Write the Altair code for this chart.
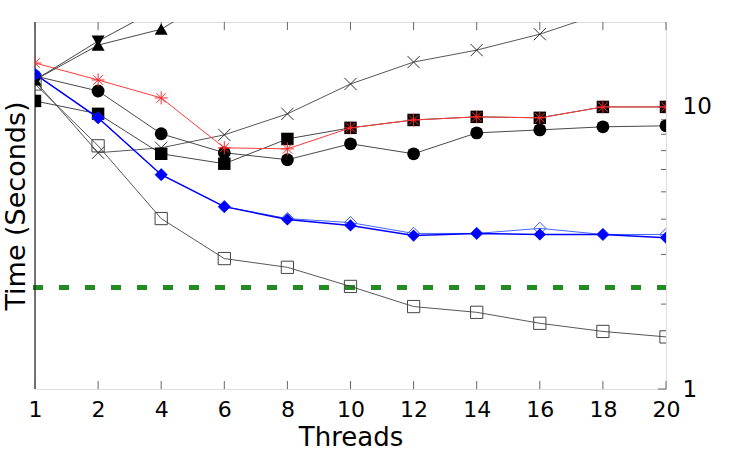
import altair as alt
import pandas as pd

# ---------------- data ----------------
THREADS = [1, 2, 4, 6, 8, 10, 12, 14, 16, 18, 20]

open_square = [12.06, 7.28, 4.02, 2.90, 2.70, 2.31, 1.96, 1.87, 1.71, 1.60, 1.53]
cross_x = [12.36, 6.88, 7.16, 7.96, 9.45, 12.06, 14.42, 15.90, 18.11, 21.5, 23.5]
circle = [12.87, 11.39, 8.03, 6.88, 6.50, 7.40, 6.82, 8.09, 8.29, 8.50, 8.57]
filled_square = [10.50, 9.45, 6.82, 6.29, 7.70, 8.43, 8.99, 9.22, 9.15, 10.0, 10.0]
red_star = [14.31, 12.46, 10.76, 7.16, 7.10, 8.43, 8.99, 9.22, 9.15, 10.0, 10.0]
blue_open = [13.08, 9.15, 5.75, 4.43, 4.02, 3.89, 3.56, 3.56, 3.71, 3.53, 3.53]
blue_filled = [13.08, 9.15, 5.75, 4.43, 3.99, 3.80, 3.50, 3.56, 3.53, 3.53, 3.44]

tri_down_threads = [1, 2, 4]
tri_down = [12.46, 17.11, 22.6]
tri_up_threads = [1, 2, 4, 6]
tri_up = [12.46, 16.56, 18.86, 25.7]

baseline = [2.29]

Y_LABELS = [1, 10]
Y_MINOR = [2, 3, 4, 5, 6, 7, 8, 9]

# ---------------- layout ----------------
W, H = 631, 367
FONT = "DejaVu Sans"

X_PATH = "M-1,-1L1,1M-1,1L1,-1"
STAR_PATH = "M-1,0L1,0M0,-1L0,1M-0.72,-0.72L0.72,0.72M-0.72,0.72L0.72,-0.72"

yscale = alt.Scale(type="log", domain=[1, 20], nice=False)
xscale = alt.Scale(type="point", padding=0)

X = alt.X(
    "Threads:O",
    scale=xscale,
    sort=THREADS,
    axis=alt.Axis(
        title="Threads",
        labelFontSize=22,
        titleFontSize=26,
        labelPadding=10,
        titlePadding=4,
        ticks=False,
        domain=False,
        grid=False,
        labelAngle=0,
        titleFontWeight="normal",
        labelColor="black",
        titleColor="black",
        labelFont=FONT,
        titleFont=FONT,
    ),
)

Y_NONE = alt.Y("Time:Q", scale=yscale, axis=None)
Y_RIGHT = alt.Y(
    "Time:Q",
    scale=yscale,
    axis=alt.Axis(
        orient="right",
        values=Y_LABELS,
        format="d",
        ticks=False,
        domain=False,
        grid=False,
        labelFontSize=23,
        labelPadding=16,
        labelColor="black",
        labelFont=FONT,
        title=None,
    ),
)
Y_LEFT = alt.Y(
    "Time:Q",
    scale=yscale,
    axis=alt.Axis(
        orient="left",
        title="Time (Seconds)",
        labels=False,
        ticks=False,
        domain=False,
        grid=False,
        titleFontSize=27,
        titlePadding=5,
        titleFontWeight="normal",
        titleColor="black",
        titleFont=FONT,
    ),
)

layers = []

# green dashed reference line (carries the left axis title)
green = alt.Chart(pd.DataFrame({"Time": baseline})).mark_rule(
    color="#228b22", strokeWidth=5, strokeDash=[10, 16]
).encode(y=Y_LEFT, x=alt.value(-2), x2=alt.value(W))
layers.append(green)

# dark left border of the frame
layers.append(
    alt.Chart(pd.DataFrame({"Time": [1]})).mark_rule(color="#222222", strokeWidth=1.2).encode(
        x=alt.value(0), y=alt.value(0), y2=alt.value(H)
    )
)

# inward ticks on bottom / top
tdf = pd.DataFrame({"Threads": THREADS})
layers.append(
    alt.Chart(tdf).mark_rule(color="#666", strokeWidth=1).encode(
        x=X, y=alt.value(H), y2=alt.value(H - 8)
    )
)
layers.append(
    alt.Chart(tdf).mark_rule(color="#666", strokeWidth=1).encode(
        x=X, y=alt.value(0), y2=alt.value(8)
    )
)
# inward ticks on the right (log axis)
layers.append(
    alt.Chart(pd.DataFrame({"Time": Y_MINOR})).mark_rule(color="#666", strokeWidth=1).encode(
        y=Y_NONE, x=alt.value(W), x2=alt.value(W - 5)
    )
)
layers.append(
    alt.Chart(pd.DataFrame({"Time": Y_LABELS})).mark_rule(color="#666", strokeWidth=1).encode(
        y=Y_NONE, x=alt.value(W), x2=alt.value(W - 8)
    )
)

# series: (threads, values, shape, filled, marker colour, line colour, line width, size, marker stroke)
series = [
    (THREADS, open_square, "square", False, "#444444", "#444444", 0.9, 150, 1.0),
    (THREADS, cross_x, X_PATH, False, "#333333", "#444444", 0.9, 150, 1.0),
    (THREADS, circle, "circle", True, "black", "#333333", 0.9, 165, 1.0),
    (THREADS, filled_square, "square", True, "black", "#333333", 0.9, 155, 1.0),
    (THREADS, red_star, STAR_PATH, False, "#ff2a2a", "#ff3b3b", 1.0, 170, 1.0),
    (tri_down_threads, tri_down, "triangle-down", True, "black", "#333333", 0.9, 170, 1.0),
    (tri_up_threads, tri_up, "triangle-up", True, "black", "#333333", 0.9, 170, 1.0),
    (THREADS, blue_open, "diamond", False, "#3355ff", "#4466ff", 1.0, 150, 1.0),
    (THREADS, blue_filled, "diamond", True, "#0000ff", "#0000ff", 1.5, 150, 1.0),
]

first = True
for thr, vals, shape, filled, mcol, lcol, lw, size, sw in series:
    df = pd.DataFrame({"Threads": thr, "Time": vals})
    yenc = Y_RIGHT if first else Y_NONE
    first = False
    line = alt.Chart(df).mark_line(color=lcol, strokeWidth=lw, clip=True).encode(x=X, y=yenc)
    pts = alt.Chart(df).mark_point(
        shape=shape, filled=filled, color=mcol, size=size, strokeWidth=sw, opacity=1, clip=True
    ).encode(x=X, y=Y_NONE)
    layers.append(line)
    layers.append(pts)

chart = (
    alt.layer(*layers)
    .resolve_axis(y="independent")
    .properties(
        width=W,
        height=H,
        padding={"left": 35, "top": 22, "right": 84, "bottom": 61},
        autosize=alt.AutoSizeParams(type="none"),
        background="white",
    )
    .configure_view(stroke="#444444", strokeWidth=1.5)
    .configure(font=FONT)
)

chart.save("out.html", embed_options={"renderer": "svg", "actions": False})
